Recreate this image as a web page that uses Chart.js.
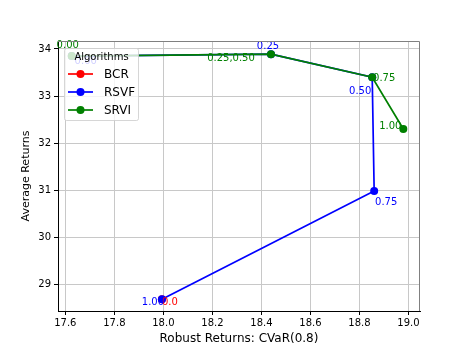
<!DOCTYPE html>
<html lang="en">
<head>
  <meta charset="UTF-8">
  <title>Robust vs average returns</title>
  <script src="https://cdn.jsdelivr.net/npm/chart.js@4"></script>
  <style>
    html, body { margin: 0; padding: 0; background: #fff; }
    #wrap { width: 467px; height: 350px; }
  </style>
</head>
<body>
  <div id="wrap"><canvas id="chart" width="467" height="350"></canvas></div>
  <script>
    // data
    const algorithms = ['BCR', 'RSVF', 'SRVI'];

    const bcrX = [17.994];
    const bcrY = [28.68];
    const bcrLabels = ['0.0'];

    const rsvfX = [17.626, 18.439, 18.852, 18.860, 17.994];
    const rsvfY = [33.85, 33.89, 33.40, 30.98, 28.68];
    const rsvfLabels = ['0.00', '0.25', '0.50', '0.75', '1.00'];

    const srviX = [17.626, 18.439, 18.852, 18.979];
    const srviY = [33.85, 33.89, 33.40, 32.30];
    const srviLabels = ['0.00', '0.25,0.50', '0.75', '1.00'];

    const xTicks = [17.6, 17.8, 18.0, 18.2, 18.4, 18.6, 18.8, 19.0];
    const yTicks = [29, 30, 31, 32, 33, 34];

    const colors = ['#ff0000', '#0000ff', '#008000'];
    // text offsets in px from each point (matplotlib jitter)
    const labelOffsets = [
      [[8, 3]],
      [[14, 5], [-3, -8], [-12, 14], [12, 11], [-9, 3]],
      [[-4, -11], [-40, 4], [12, 1], [-13, -3]]
    ];

    const FONT = 'DejaVu Sans';
    const toPoints = (xs, ys) => xs.map((x, i) => ({ x: x, y: ys[i] }));

    const datasets = [
      { label: algorithms[0], data: toPoints(bcrX, bcrY), texts: bcrLabels, order: 2 },
      { label: algorithms[1], data: toPoints(rsvfX, rsvfY), texts: rsvfLabels, order: 1 },
      { label: algorithms[2], data: toPoints(srviX, srviY), texts: srviLabels, order: 0 }
    ].map((d, i) => Object.assign(d, {
      borderColor: colors[i],
      backgroundColor: colors[i],
      pointBackgroundColor: colors[i],
      pointBorderWidth: 0,
      pointRadius: 4,
      borderWidth: 1.7,
      showLine: true,
      tension: 0
    }));

    // point annotations
    const pointText = {
      id: 'pointText',
      afterDatasetsDraw(chart) {
        const ctx = chart.ctx;
        ctx.save();
        ctx.font = '10px "' + FONT + '"';
        ctx.textAlign = 'center';
        ctx.textBaseline = 'middle';
        chart.data.datasets.forEach((ds, di) => {
          const meta = chart.getDatasetMeta(di);
          ctx.fillStyle = colors[di];
          meta.data.forEach((el, i) => {
            const off = labelOffsets[di][i];
            ctx.fillText(ds.texts[i], el.x + off[0], el.y + off[1]);
          });
        });
        ctx.restore();
      }
    };

    // top/right spines + legend box inside the axes
    const frameAndLegend = {
      id: 'frameAndLegend',
      afterDraw(chart) {
        const ctx = chart.ctx;
        const a = chart.chartArea;
        ctx.save();
        ctx.strokeStyle = '#808080';
        ctx.lineWidth = 1;
        ctx.beginPath();
        ctx.moveTo(a.left, a.top + 0.5);
        ctx.lineTo(a.right - 0.5, a.top + 0.5);
        ctx.lineTo(a.right - 0.5, a.bottom);
        ctx.stroke();

        const bx = 64.5, by = 48.5, bw = 74, bh = 72;
        ctx.fillStyle = 'rgba(255,255,255,0.8)';
        ctx.strokeStyle = 'rgba(204,204,204,0.8)';
        ctx.beginPath();
        ctx.roundRect(bx, by, bw, bh, 2);
        ctx.fill();
        ctx.stroke();

        ctx.fillStyle = '#000';
        ctx.textBaseline = 'middle';
        ctx.textAlign = 'center';
        ctx.font = '10px "' + FONT + '"';
        ctx.fillText('Algorithms', bx + bw / 2, 57);
        ctx.textAlign = 'left';
        ctx.font = '12px "' + FONT + '"';
        chart.data.datasets.forEach((ds, i) => {
          const y = 74 + i * 18;
          ctx.strokeStyle = colors[i];
          ctx.lineWidth = 1.7;
          ctx.beginPath();
          ctx.moveTo(68, y);
          ctx.lineTo(93, y);
          ctx.stroke();
          ctx.fillStyle = colors[i];
          ctx.beginPath();
          ctx.arc(80.5, y, 4, 0, Math.PI * 2);
          ctx.fill();
          ctx.fillStyle = '#000';
          ctx.fillText(ds.label, 104, y + 1);
        });
        ctx.restore();
      }
    };

    new Chart(document.getElementById('chart'), {
      type: 'scatter',
      data: { datasets: datasets },
      plugins: [pointText, frameAndLegend],
      options: {
        responsive: false,
        animation: false,
        events: [],
        layout: { padding: { top: 41, right: 47, left: 0, bottom: 0 } },
        plugins: { legend: { display: false }, tooltip: { enabled: false } },
        scales: {
          x: {
            type: 'linear',
            min: 17.57,
            max: 19.047,
            afterBuildTicks: s => { s.ticks = xTicks.map(v => ({ value: v })); },
            afterFit: s => { s.height = 39; },
            grid: { color: '#c8c8c8', lineWidth: 1, tickLength: 4, tickColor: '#000' },
            border: { color: '#000', width: 1 },
            ticks: {
              color: '#000', padding: 2, maxRotation: 0,
              font: { family: FONT, size: 10 },
              callback: v => v.toFixed(1)
            },
            title: {
              display: true, text: 'Robust Returns: CVaR(0.8)', color: '#000',
              font: { family: FONT, size: 12 }, padding: { top: 0, bottom: 4 }
            }
          },
          y: {
            type: 'linear',
            min: 28.43,
            max: 34.17,
            afterBuildTicks: s => { s.ticks = yTicks.map(v => ({ value: v })); },
            afterFit: s => { s.width = 58; },
            grid: { color: '#c8c8c8', lineWidth: 1, tickLength: 4, tickColor: '#000' },
            border: { color: '#000', width: 1 },
            ticks: {
              color: '#000', padding: 3,
              font: { family: FONT, size: 10 },
              callback: v => String(v)
            },
            title: {
              display: true, text: 'Average Returns', color: '#000',
              font: { family: FONT, size: 11 }, padding: { top: 20, bottom: 0 }
            }
          }
        }
      }
    });
  </script>
</body>
</html>
